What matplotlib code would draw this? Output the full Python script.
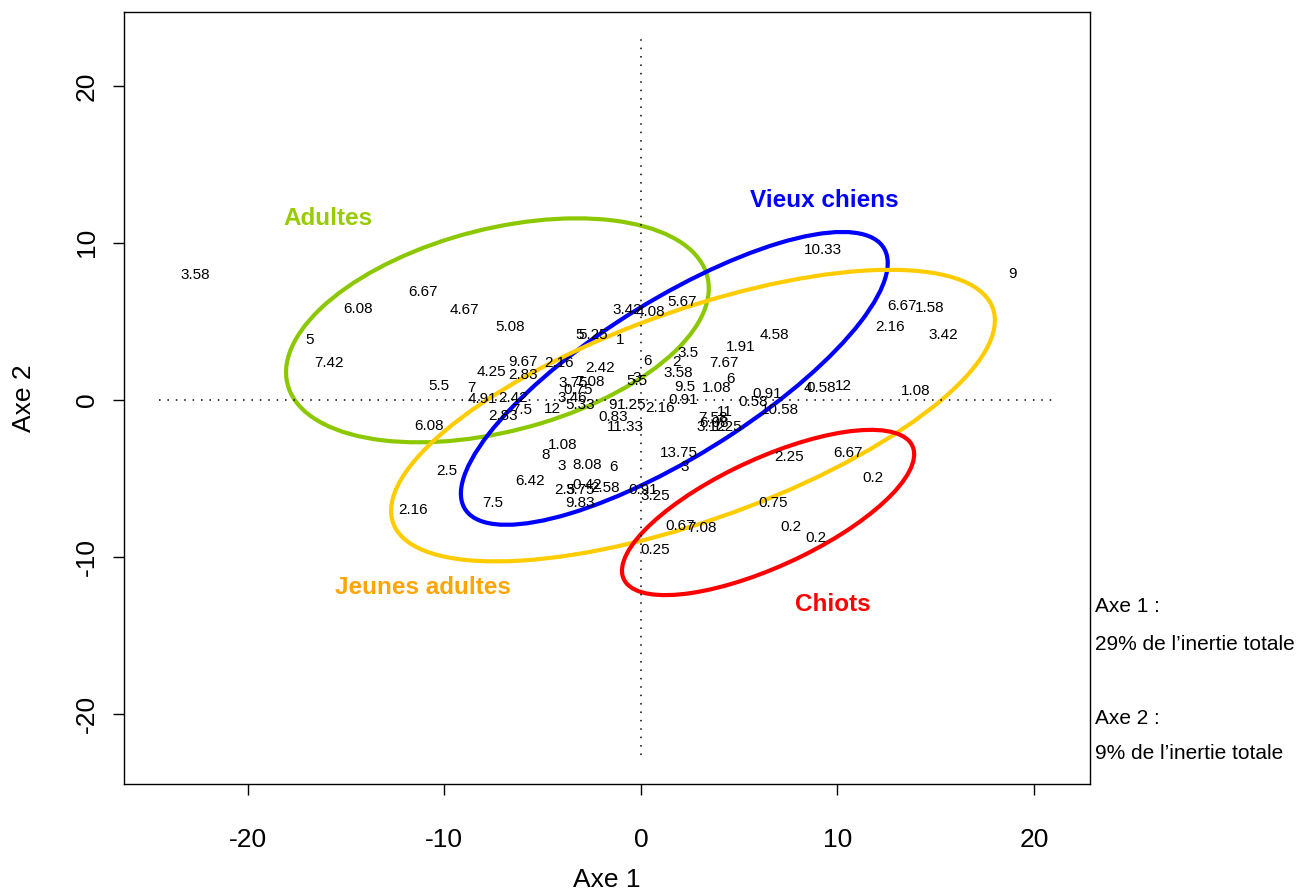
import matplotlib
matplotlib.use("Agg")
import matplotlib.pyplot as plt
from matplotlib.patches import Ellipse

plt.rcParams["font.family"] = ["Liberation Sans", "DejaVu Sans"]
plt.rcParams["axes.unicode_minus"] = False

# individual point labels (age in years) at their factor coordinates
labels = [
    "3.58", "6.08", "6.67", "5", "7.42", "5.5", "6.08", "4.67", "5.08",
    "5", "5.25", "1", "3.42", "4.08", "5.67", "9.67", "2.16", "4.25", "2.83",
    "2.42", "6", "7", "4.91", "2.42", "7.5", "2.83", "12",
    "3.75", "7.08", "0.75", "3.46", "5.33", "5.5", "3", "9", "1.25", "2.16",
    "0.83", "11.33", "0.91", "9.5", "3.58", "2", "3.5",
    "4.58", "1.91", "7.67", "6", "1.08", "0.91", "0.58", "10.58", "4", "0.58",
    "12", "11", "7.58", "6.08", "3.12", "1.25",
    "13.75", "3", "6", "2.5", "3.75", "0.42", "2.58", "9.83", "6.42", "1.08",
    "8", "3", "8.08", "7.5", "2.5", "2.16", "0.91", "3.25", "0.67", "7.08",
    "0.25", "2.25", "6.67", "0.2", "0.75", "0.2", "0.2",
    "10.33", "9", "6.67", "1.58", "2.16", "3.42", "1.08",
]
axe1 = [
    -22.65, -14.40, -11.09, -16.84, -15.88, -10.28, -10.79, -8.96, -6.67,
    -3.10, -2.44, -1.07, -0.71, 0.46, 2.09, -6.00, -4.17, -7.58, -6.00,
    -2.09, 0.36, -8.60, -8.04, -6.51, -6.06, -7.02, -4.48,
    -3.46, -2.60, -3.20, -3.50, -3.10, -0.20, -0.20, -1.42, -0.46, 0.97,
    -1.42, -0.81, 2.14, 2.24, 1.88, 1.83, 2.39,
    6.77, 5.09, 4.22, 4.58, 3.87, 6.41, 5.70, 7.07, 8.50, 9.16,
    10.28, 4.27, 3.66, 3.72, 3.56, 4.43,
    1.93, 2.24, -1.37, -3.87, -3.10, -2.75, -1.83, -3.10, -5.65, -3.97,
    -4.83, -4.02, -2.75, -7.53, -9.87, -11.60, 0.10, 0.71, 1.98, 3.10,
    0.71, 7.53, 10.53, 11.81, 6.72, 7.63, 8.91,
    9.26, 18.93, 13.28, 14.71, 12.67, 15.37, 14.00,
]
axe2 = [
    7.96, 5.80, 6.88, 3.82, 2.36, 0.89, -1.66, 5.73, 4.65,
    4.14, 4.14, 3.82, 5.73, 5.60, 6.24, 2.42, 2.36, 1.78, 1.59,
    2.04, 2.48, 0.76, 0.06, 0.13, -0.64, -1.02, -0.57,
    1.08, 1.15, 0.64, 0.13, -0.32, 1.21, 1.40, -0.32, -0.32, -0.51,
    -1.08, -1.72, 0.00, 0.83, 1.72, 2.42, 2.99,
    4.14, 3.38, 2.36, 1.34, 0.76, 0.38, -0.13, -0.64, 0.76, 0.76,
    0.89, -0.76, -1.15, -1.46, -1.72, -1.72,
    -3.38, -4.27, -4.27, -5.73, -5.73, -5.41, -5.60, -6.56, -5.16, -2.87,
    -3.50, -4.20, -4.14, -6.56, -4.52, -7.00, -5.73, -6.11, -8.00, -8.15,
    -9.55, -3.63, -3.38, -4.97, -6.56, -8.09, -8.79,
    9.55, 8.03, 5.99, 5.86, 4.65, 4.14, 0.57,
]

# confidence ellipses per age group: centre, semi-axes, rotation (deg)
groups = ["Adultes", "Vieux chiens", "Jeunes adultes", "Chiots"]
centre_x = [-7.3, 1.7, 2.65, 6.47]
centre_y = [4.43, 1.37, -1.0, -7.17]
semi_a = [11.25, 13.55, 16.75, 8.5]
semi_b = [6.32, 4.61, 6.45, 3.27]
rotation = [20.8, 39.5, 25.6, 31.7]
group_lab_x = [-15.9, 9.31, -11.09, 9.77]
group_lab_y = [11.55, 12.7, -11.95, -13.05]

ellipse_colors = ["#8cc800", "#0000ff", "#ffcc00", "#ff0000"]
text_colors = ["#99cc00", "#0000ff", "#ffa500", "#ff0000"]

fig = plt.figure(figsize=(13.12, 8.9), dpi=100)
ax = fig.add_axes([0.0945, 0.1191, 0.7363, 0.8674])

ax.plot([-24.5, 21.1], [0, 0], linestyle=(0, (1, 4.5)), color="black", lw=1.1)
ax.plot([0, 0], [-22.6, 23.0], linestyle=(0, (1, 4.5)), color="black", lw=1.1)

for t, x, y in zip(labels, axe1, axe2):
    ax.text(x, y, t, ha="center", va="center", fontsize=11)

for i, g in enumerate(groups):
    ax.add_patch(Ellipse((centre_x[i], centre_y[i]), 2 * semi_a[i], 2 * semi_b[i],
                         angle=rotation[i], fill=False, edgecolor=ellipse_colors[i], lw=3))
    ax.text(group_lab_x[i], group_lab_y[i], g, color=text_colors[i], fontsize=17.5,
            fontweight="bold", ha="center", va="center")

ax.set_xlim(-26.3, 22.85)
ax.set_ylim(-24.46, 24.7)
ax.set_xticks([-20, -10, 0, 10, 20])
ax.set_yticks([-20, -10, 0, 10, 20])
ax.tick_params(labelsize=19, length=8, width=1)
ax.tick_params(axis="x", pad=23.5)
ax.tick_params(axis="y", pad=10)
plt.setp(ax.get_yticklabels(), rotation=90, va="center")
for s in ax.spines.values():
    s.set_linewidth(1)
ax.set_xlabel("Axe 1", fontsize=19, labelpad=11.5)
ax.set_ylabel("Axe 2", fontsize=19, labelpad=28)

fig.text(0.8346, 0.319, "Axe 1 :", fontsize=15, va="center")
fig.text(0.8346, 0.276, "29% de l\u2019inertie totale", fontsize=15, va="center")
fig.text(0.8346, 0.193, "Axe 2 :", fontsize=15, va="center")
fig.text(0.8346, 0.153, "9% de l\u2019inertie totale", fontsize=15, va="center")

fig.savefig("out.png", dpi=100)
